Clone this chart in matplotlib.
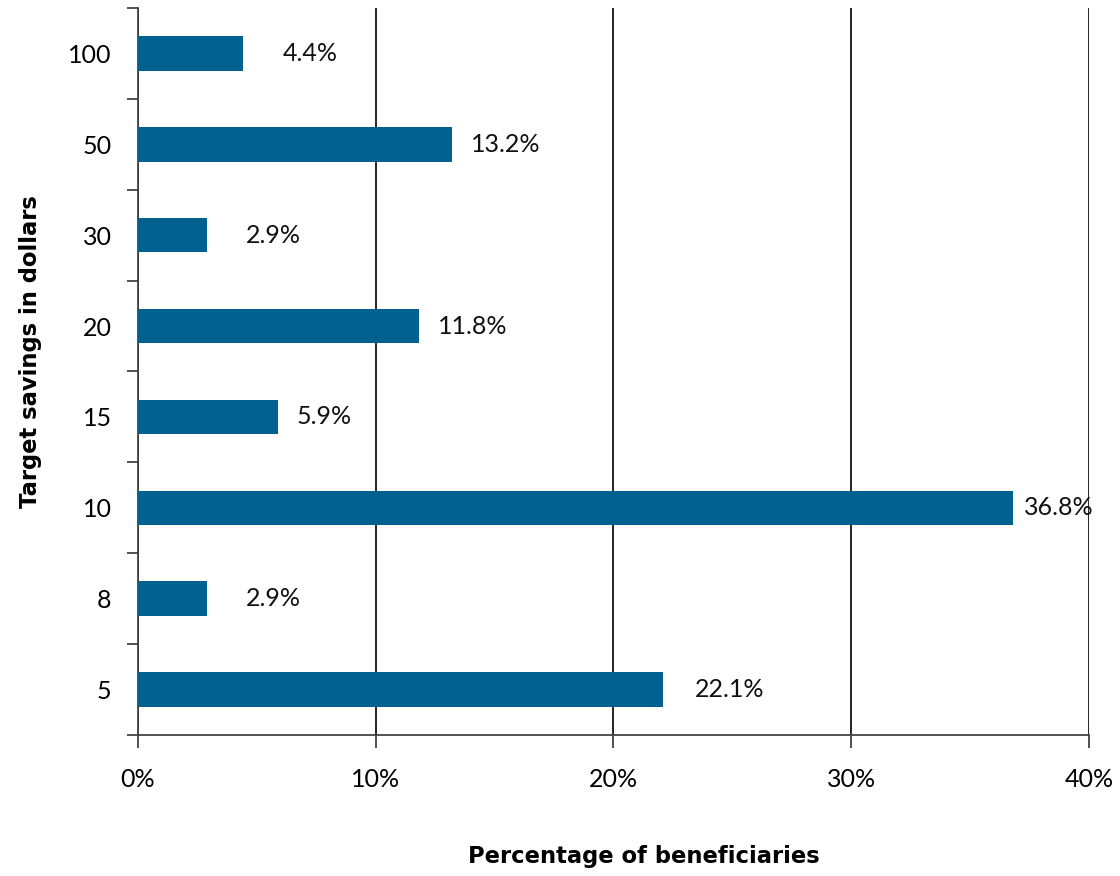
import matplotlib
matplotlib.use('Agg')
from matplotlib import pyplot as plt
from matplotlib.ticker import FixedLocator

# savings targets (bottom to top) and share of beneficiaries in percent
targets = ['5', '8', '10', '15', '20', '30', '50', '100']
shares = [22.1, 2.9, 36.8, 5.9, 11.8, 2.9, 13.2, 4.4]
xticks = [0, 10, 20, 30, 40]

# gap between bar end and its value label, in points
label_pad = [23, 28, 8, 13, 14, 28, 14, 29]

bar_color = '#02618f'

plt.rcParams['font.family'] = ['Lato', 'DejaVu Sans']

fig = plt.figure(figsize=(11.2, 8.76), dpi=100)
ax = fig.add_axes([0.1232, 0.161, 0.8491, 0.8299])

ypos = list(range(len(targets)))
ax.barh(ypos, shares, height=0.38, color=bar_color, zorder=3)

for y, v, p in zip(ypos, shares, label_pad):
	ax.annotate('%.1f%%' % v, xy=(v, y), xytext=(p, 0), textcoords='offset points',
		va='center', ha='left', fontsize=18, color='#111111', zorder=4)

ax.set_xlim(0, 40)
ax.set_ylim(-0.5, len(targets) - 0.5)

ax.set_xticks(xticks)
ax.set_xticklabels(['%d%%' % t for t in xticks], fontsize=18)
ax.tick_params(axis='x', length=9, width=1.2, pad=15, color='#333333')

ax.set_yticks(ypos)
ax.set_yticklabels(targets, fontsize=18)
ax.tick_params(axis='y', which='major', length=0, pad=19)
ax.yaxis.set_minor_locator(FixedLocator([i - 0.5 for i in range(len(targets) + 1)]))
ax.tick_params(axis='y', which='minor', length=8, width=1.2, color='#333333')

ax.grid(axis='x', color='black', linewidth=1.2, zorder=1)
ax.spines['top'].set_visible(False)
ax.spines['right'].set_visible(False)
ax.spines['left'].set_color('#444444')
ax.spines['left'].set_linewidth(1.3)
ax.spines['bottom'].set_color('#444444')
ax.spines['bottom'].set_linewidth(1.3)

ax.set_xlabel('Percentage of beneficiaries', fontsize=16.3, fontweight='bold',
	family='DejaVu Sans')
ax.xaxis.set_label_coords(0.532, -0.151)
ax.set_ylabel('Target savings in dollars', fontsize=16.3, fontweight='bold',
	family='DejaVu Sans')
ax.yaxis.set_label_coords(-0.101, 0.527)

fig.savefig('out.png', dpi=100)
